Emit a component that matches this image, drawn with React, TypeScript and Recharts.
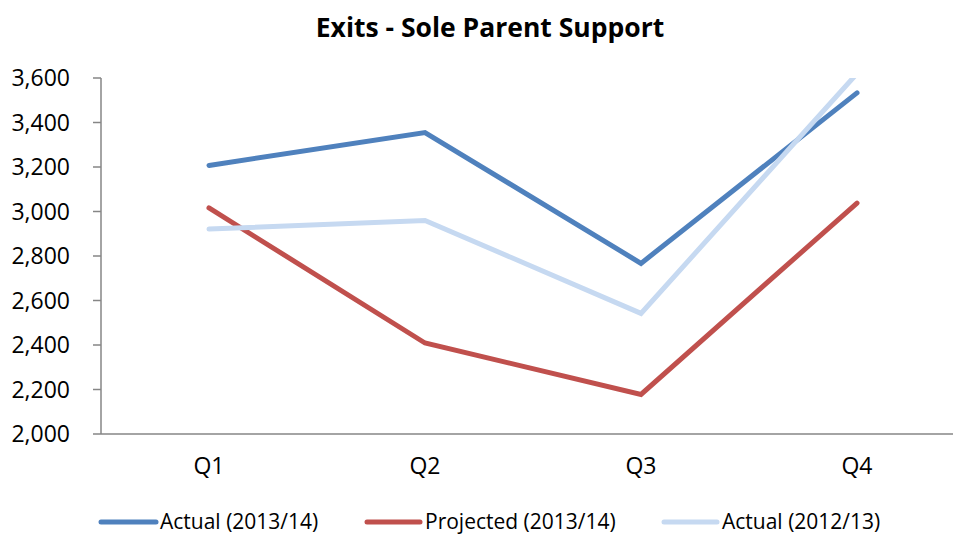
import React from 'react';
import { LineChart, Line, XAxis, YAxis } from 'recharts';

const categories = ['Q1', 'Q2', 'Q3', 'Q4'];
const actual1314 = [3207, 3355, 2767, 3533];
const projected1314 = [3016, 2409, 2178, 3038];
const actual1213 = [2921, 2960, 2542, 3620];
const yTicks = [2000, 2200, 2400, 2600, 2800, 3000, 3200, 3400, 3600];
const bandTicks = [0, 1, 2, 3, 4];

const seriesInfo = [
  { key: 'a1314', name: 'Actual (2013/14)', color: '#4F81BD' },
  { key: 'p1314', name: 'Projected (2013/14)', color: '#C0504D' },
  { key: 'a1213', name: 'Actual (2012/13)', color: '#C6D9F1' },
];

const data = categories.map((q, i) => ({
  q,
  a1314: actual1314[i],
  p1314: projected1314[i],
  a1213: actual1213[i],
}));

const FONT = 'Open Sans, sans-serif';
const fmt = (v: number) => v.toLocaleString('en-US');

const legendLayout = [
  { x1: 101, x2: 156, tx: 160 },
  { x1: 367, x2: 420, tx: 425 },
  { x1: 664, x2: 717, tx: 722 },
];

export default function App() {
  return (
    <div style={{ position: 'absolute', left: 0, top: 0, width: 953, height: 534, overflow: 'hidden', background: '#fff' }}>
      <div style={{ position: 'absolute', left: 290, width: 400, top: 9, textAlign: 'center', fontFamily: FONT, fontWeight: 700, fontSize: 26.5, color: '#000', whiteSpace: 'nowrap' }}>
        Exits - Sole Parent Support
      </div>
      <LineChart
        width={975}
        height={534}
        data={data}
        margin={{ top: 78, right: 10, bottom: 59, left: 0 }}
        style={{ position: 'absolute', left: 0, top: 0 }}
      >
        <XAxis
          xAxisId="band"
          type="number"
          domain={[0, 4]}
          ticks={bandTicks}
          allowDataOverflow
          stroke="#868686"
          strokeWidth={1.5}
          tickSize={7}
          tick={false}
          height={1}
        />
        <XAxis
          xAxisId="cat"
          dataKey="q"
          axisLine={false}
          tickLine={false}
          padding={{ left: 108, right: 108 }}
          tickMargin={17}
          tick={{ fill: '#000', fontSize: 23, fontFamily: FONT }}
          height={40}
        />
        <YAxis
          domain={[2000, 3600]}
          ticks={yTicks}
          allowDataOverflow
          width={101}
          stroke="#868686"
          strokeWidth={1.5}
          tickSize={8}
          tickMargin={23}
          tickFormatter={fmt}
          tick={{ fill: '#000', fontSize: 23, fontFamily: FONT }}
          interval={0}
        />
        {seriesInfo.map((s) => (
          <Line
            key={s.key}
            xAxisId="cat"
            type="linear"
            dataKey={s.key}
            name={s.name}
            stroke={s.color}
            strokeWidth={5}
            strokeLinecap="round"
            strokeLinejoin="miter"
            dot={false}
            activeDot={false}
            isAnimationActive={false}
          />
        ))}
      </LineChart>
      <svg width={953} height={40} style={{ position: 'absolute', left: 0, top: 494 }}>
        {seriesInfo.map((s, i) => (
          <g key={s.key}>
            <line x1={legendLayout[i].x1} x2={legendLayout[i].x2} y1={28} y2={28} stroke={s.color} strokeWidth={5} strokeLinecap="round" />
            <text x={legendLayout[i].tx} y={34.5} fontFamily={FONT} fontSize={21} fill="#000">
              {s.name}
            </text>
          </g>
        ))}
      </svg>
    </div>
  );
}
